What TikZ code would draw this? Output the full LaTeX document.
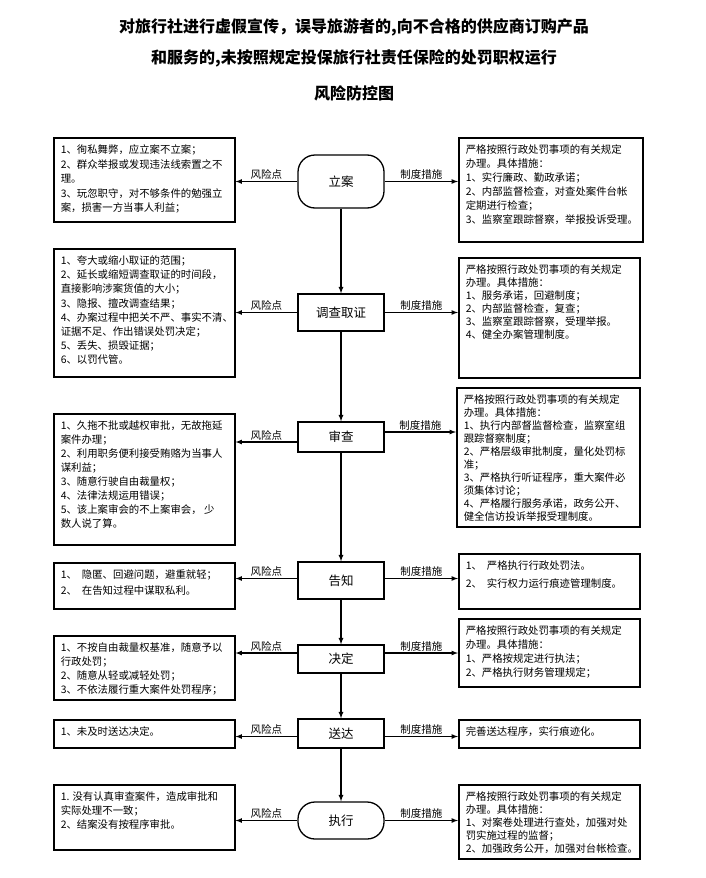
\documentclass[tikz,border=0pt]{standalone}
\usepackage{fontspec}
\setmainfont{Noto Sans CJK SC}
\usepackage{tikz}
\tikzset{every node/.style={align=center}, >= latex, font=\fontsize{10.5}{12}\selectfont,
  flow/.style={draw, line width=1.3pt, minimum width=86pt, font=\fontsize{12.5}{14}\selectfont},
  term/.style={flow, rounded corners=17pt},
  note/.style={draw, line width=1.5pt, anchor=north west, inner sep=0pt, align=left},
  headline/.style={font=\fontsize{16}{18}\selectfont\bfseries}}
\newcommand{\notetext}[4][14]{\parbox[c][#3pt][t]{#2pt}{\fontsize{10.4}{#1}\selectfont\vspace*{7pt}\leftskip=7pt\relax #4}}

\begin{document}
\begin{tikzpicture}[x=1pt, y=-1pt]
  \useasboundingbox (0,0) rectangle (705,878);
  \node [headline] (title1) at (354,27) {对旅行社进行虚假宣传，误导旅游者的,向不合格的供应商订购产品};
  \node [headline] (title2) at (354,58) {和服务的,未按照规定投保旅行社责任保险的处罚职权运行};
  \node [headline] (title3) at (354,93) {风险防控图};

  \node [term, minimum height=53pt] (lian) at (341,181.5) {立案};
  \node [flow, minimum height=37pt] (diaocha) at (341,312.5) {调查取证};
  \node [flow, minimum height=30pt] (shencha) at (341,437) {审查};
  \node [flow, minimum height=37pt] (gaozhi) at (341,580.5) {告知};
  \node [flow, minimum height=28pt] (jueding) at (341,659) {决定};
  \node [flow, minimum height=29pt] (songda) at (341,733.5) {送达};
  \node [term, minimum height=37pt] (zhixing) at (341,820.5) {执行};

  \node [note] (fx1) at (53,137) {\notetext[14.5]{181}{84}{1、徇私舞弊，应立案不立案；\\2、群众举报或发现违法线索置之不\\理。\\3、玩忽职守，对不够条件的勉强立\\案，损害一方当事人利益；}};
  \node [note] (fx2) at (53,248) {\notetext[14.2]{181}{128}{1、夸大或缩小取证的范围；\\2、延长或缩短调查取证的时间段，\\直接影响涉案货值的大小；\\3、隐报、擅改调查结果；\\4、办案过程中把关不严、事实不清、\\证据不足、作出错误处罚决定；\\5、丢失、损毁证据；\\6、以罚代管。}};
  \node [note] (fx3) at (53,413) {\notetext{181}{131}{1、久拖不批或越权审批，无故拖延\\案件办理；\\2、利用职务便利接受贿赂为当事人\\谋利益；\\3、随意行驶自由裁量权；\\4、法律法规运用错误；\\5、该上案审会的不上案审会， 少\\数人说了算。}};
  \node [note] (fx4) at (53,562) {\notetext[16]{181}{46}{1、\hspace{5pt}隐匿、回避问题，避重就轻；\\2、\hspace{5pt}在告知过程中谋取私利。}};
  \node [note] (fx5) at (53,635) {\notetext{181}{64}{1、不按自由裁量权基准，随意予以\\行政处罚；\\2、随意从轻或减轻处罚；\\3、不依法履行重大案件处罚程序；}};
  \node [note] (fx6) at (53,719) {\notetext{181}{28}{1、未及时送达决定。}};
  \node [note] (fx7) at (53,784) {\notetext{181}{65}{1. 没有认真审查案件，造成审批和\\实际处理不一致；\\2、结案没有按程序审批。}};

  \node [note] (cs1) at (458,137) {\notetext{184}{104}{严格按照行政处罚事项的有关规定\\办理。具体措施：\\1、实行廉政、勤政承诺；\\2、内部监督检查，对查处案件台帐\\定期进行检查；\\3、监察室跟踪督察，举报投诉受理。}};
  \node [note] (cs2) at (458,257) {\notetext[13]{181}{120}{严格按照行政处罚事项的有关规定\\办理。具体措施：\\1、服务承诺，回避制度；\\2、内部监督检查，复查；\\3、监察室跟踪督察，受理举报。\\4、健全办案管理制度。}};
  \node [note] (cs3) at (456,387) {\notetext[13]{183}{139}{严格按照行政处罚事项的有关规定\\办理。具体措施：\\1、执行内部督监督检查，监察室组\\跟踪督察制度；\\2、严格层级审批制度，量化处罚标\\准；\\3、严格执行听证程序，重大案件必\\须集体讨论；\\4、严格履行服务承诺，政务公开、\\健全信访投诉举报受理制度。}};
  \node [note] (cs4) at (458,553) {\notetext[18]{181}{55}{1、\hspace{5pt}严格执行行政处罚法。\\2、\hspace{5pt}实行权力运行痕迹管理制度。}};
  \node [note] (cs5) at (458,618) {\notetext[14]{181}{68}{严格按照行政处罚事项的有关规定\\办理。具体措施：\\1、严格按规定进行执法；\\2、严格执行财务管理规定；}};
  \node [note] (cs6) at (458,719) {\notetext{181}{28}{完善送达程序，实行痕迹化。}};
  \node [note] (cs7) at (458,784) {\notetext[13]{181}{74}{严格按照行政处罚事项的有关规定\\办理。具体措施：\\1、对案卷处理进行查处，加强对处\\罚实施过程的监督；\\2、加强政务公开，加强对台帐检查。}};

  \path[->, line width=1.2pt] (lian) edge (diaocha)
      (diaocha) edge (shencha)
      (shencha) edge (gaozhi)
      (gaozhi) edge (jueding)
      (jueding) edge (songda)
      (songda) edge (zhixing);

  \path[->, line width=1.2pt, every node/.style={above, inner sep=1.5pt}]
      (lian.west) edge node {风险点} (lian.west -| fx1.east)
      (lian.east) edge node {制度措施} (lian.east -| cs1.west)
      (diaocha.west) edge node {风险点} (diaocha.west -| fx2.east)
      (diaocha.east) edge node {制度措施} (diaocha.east -| cs2.west)
      ([yshift=-5pt]shencha.west) edge node {风险点} ([yshift=-5pt]shencha.west -| fx3.east)
      ([yshift=5pt]shencha.east) edge node {制度措施} ([yshift=5pt]shencha.east -| cs3.west)
      ([yshift=2pt]gaozhi.west) edge node {风险点} ([yshift=2pt]gaozhi.west -| fx4.east)
      ([yshift=2pt]gaozhi.east) edge node {制度措施} ([yshift=2pt]gaozhi.east -| cs4.west)
      ([yshift=6pt]jueding.west) edge node {风险点} ([yshift=6pt]jueding.west -| fx5.east)
      ([yshift=6pt]jueding.east) edge node {制度措施} ([yshift=6pt]jueding.east -| cs5.west)
      ([yshift=-3pt]songda.west) edge node {风险点} ([yshift=-3pt]songda.west -| fx6.east)
      ([yshift=-3pt]songda.east) edge node {制度措施} ([yshift=-3pt]songda.east -| cs6.west)
      (zhixing.west) edge node {风险点} (zhixing.west -| fx7.east)
      (zhixing.east) edge node {制度措施} (zhixing.east -| cs7.west);
\end{tikzpicture}
\end{document}
